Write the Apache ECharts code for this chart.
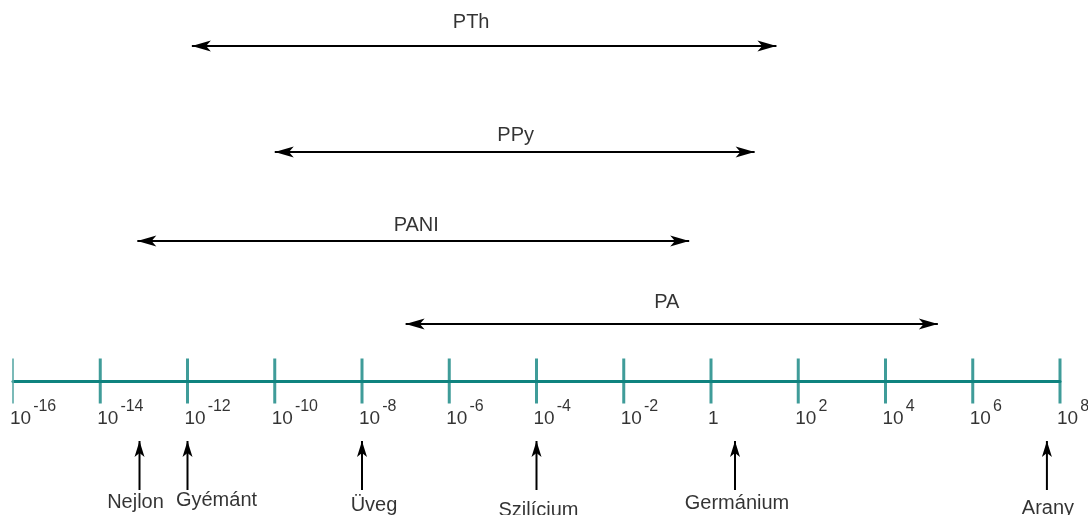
<!DOCTYPE html>
<html>
<head>
<meta charset="utf-8">
<script src="https://cdn.jsdelivr.net/npm/echarts@6/dist/echarts.min.js"></script>
<style>
  html, body { margin: 0; padding: 0; background: #fff; }
  #chart { width: 1088px; height: 515px; }
</style>
</head>
<body>
<div id="chart"></div>
<script>
// Electrical conductivity scale, in powers of ten (S/cm)
const tickExponents = [-16, -14, -12, -10, -8, -6, -4, -2, 0, 2, 4, 6, 8];

// Conducting polymers: conductivity range (log10)
const polymerNames = ['PTh', 'PPy', 'PANI', 'PA'];
const polymerLow   = [-11.9, -10, -13.15, -7];
const polymerHigh  = [1.5, 1, -0.5, 5.2];

// Reference materials (log10 conductivity)
const materialNames  = ['Nejlon', 'Gyémánt', 'Üveg', 'Szilícium', 'Germánium', 'Arany'];
const materialValues = [-13.1, -12, -8, -4, 0.55, 7.7];

// ---- styling / layout ----
const FONT = "'Liberation Sans', Arial, sans-serif";
const TEAL = '#0f837f';
const INK = '#000';
// vertical levels in px above the scale line
const rowLevel = { PTh: 335, PPy: 229, PANI: 140, PA: 57 };
const pointerTop = -60, pointerBottom = -109;
const polymerLabelShift = { PTh: [-13, -24], PPy: [1, -17], PANI: [3, -16], PA: [-5, -22] };
const materialLabelShift = {
  'Nejlon': [-4, 12], 'Gyémánt': [29, 10], 'Üveg': [12, 15],
  'Szilícium': [2, 20], 'Germánium': [2, 13], 'Arany': [1, 18]
};
// notched arrow head pointing up, tip at the top centre of its box
const HEAD = 'path://M5,0L10,20L5,15L0,20Z';
const HEAD_W = 11, HEAD_L = 19;    // range arrow heads
const PTR_W = 10, PTR_L = 16;      // pointer arrow heads

const series = [];

// range bars with arrow heads on both ends
polymerNames.forEach((name, i) => {
  const y = rowLevel[name];
  series.push({
    name: name,
    type: 'line',
    silent: true,
    clip: false,
    z: 3,
    lineStyle: { color: '#000', width: 2 },
    itemStyle: { color: '#000', borderWidth: 0 },
    data: [
      { value: [polymerLow[i], y], symbol: HEAD, symbolSize: [HEAD_W, HEAD_L],
        symbolRotate: 90, symbolOffset: [HEAD_L / 2, 0] },
      { value: [polymerHigh[i], y], symbol: HEAD, symbolSize: [HEAD_W, HEAD_L],
        symbolRotate: -90, symbolOffset: [-HEAD_L / 2, 0] }
    ]
  });
});

// range names above the bars
series.push({
  type: 'scatter',
  silent: true,
  clip: false,
  symbolSize: 0,
  z: 4,
  label: {
    show: true, position: 'inside', color: INK, fontFamily: FONT, fontSize: 20,
    formatter: p => p.name
  },
  data: polymerNames.map((name, i) => ({
    name: name,
    value: [(polymerLow[i] + polymerHigh[i]) / 2, rowLevel[name]],
    label: { offset: polymerLabelShift[name] }
  }))
});

// upward pointers below the scale
materialNames.forEach((name, i) => {
  series.push({
    name: name,
    type: 'line',
    silent: true,
    clip: false,
    z: 3,
    lineStyle: { color: '#000', width: 2 },
    itemStyle: { color: '#000', borderWidth: 0 },
    data: [
      { value: [materialValues[i], pointerBottom], symbol: 'none' },
      { value: [materialValues[i], pointerTop], symbol: HEAD, symbolSize: [PTR_W, PTR_L],
        symbolOffset: [0, PTR_L / 2] }
    ]
  });
});

// material names
series.push({
  type: 'scatter',
  silent: true,
  clip: false,
  symbolSize: 0,
  z: 4,
  label: {
    show: true, position: 'inside', color: INK, fontFamily: FONT, fontSize: 20,
    formatter: p => p.name
  },
  data: materialNames.map((name, i) => ({
    name: name,
    value: [materialValues[i], pointerBottom],
    label: { offset: materialLabelShift[name] }
  }))
});

// tick marks crossing the scale line, with power-of-ten labels
series.push({
  type: 'scatter',
  silent: true,
  clip: false,
  symbol: 'rect',
  z: 2,
  itemStyle: { color: TEAL },
  label: {
    show: true,
    position: 'bottom',
    distance: 0,
    align: 'left',
    verticalAlign: 'top',
    offset: [-3, -5],
    formatter: p => p.value[0] === 0 ? '{b|1}{s| }' : '{b|10}{s|' + p.value[0] + '}',
    rich: {
      b: { fontSize: 19, fontFamily: FONT, color: INK, verticalAlign: 'bottom' },
      s: { fontSize: 16, fontFamily: FONT, color: INK, verticalAlign: 'bottom', padding: [0, 0, 14, 2] }
    }
  },
  data: tickExponents.map((e, k) => k === 0
    ? { value: [e, 0], symbolSize: [2, 45], itemStyle: { color: '#5aa9a6' } }
    : { value: [e, 0], symbolSize: [3, 45] })
});

const chart = echarts.init(document.getElementById('chart'), null, { renderer: 'canvas' });
chart.setOption({
  animation: false,
  backgroundColor: '#fff',
  grid: { left: 13, right: 28, top: 0, bottom: 0, containLabel: false },
  xAxis: {
    type: 'value',
    min: tickExponents[0],
    max: tickExponents[tickExponents.length - 1],
    interval: 2,
    axisLine: { show: true, onZero: true, lineStyle: { color: TEAL, width: 3 } },
    axisTick: { show: false },
    splitLine: { show: false },
    axisLabel: { show: false }
  },
  yAxis: {
    type: 'value',
    min: -134,
    max: 381,
    show: false,
    splitLine: { show: false }
  },
  series: series
});
</script>
</body>
</html>
